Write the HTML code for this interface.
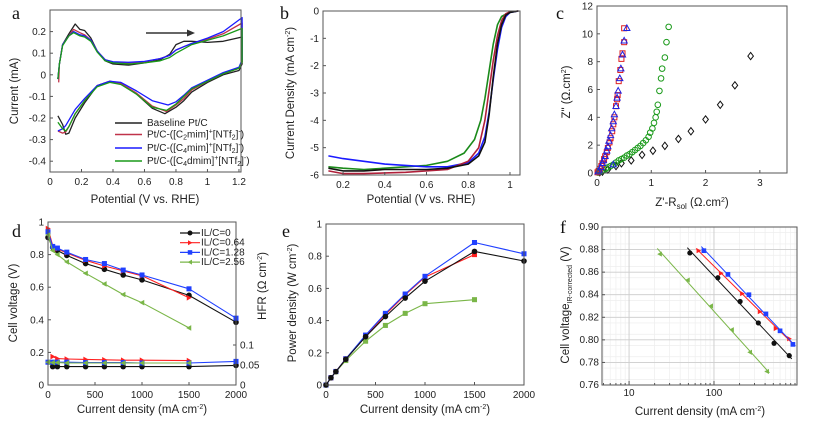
<!DOCTYPE html>
<html><head><meta charset="utf-8"><style>
html,body{margin:0;padding:0;background:#fff;}
svg{display:block;font-family:"Liberation Sans",Arial,sans-serif;}
.t{font-size:10px;fill:#222;}
.ttl{font-size:11.5px;fill:#222;}
.let{font-family:"Liberation Serif",serif;font-size:18px;fill:#111;}
</style></head><body>
<svg id="fig" xmlns="http://www.w3.org/2000/svg" width="813" height="423" viewBox="0 0 813 423"></svg>
<script>
// ---------- Panel a data (CV) ----------
const cvBlackX=[0.05,0.06,0.08,0.12,0.16,0.19,0.22,0.26,0.3,0.35,0.4,0.5,0.6,0.7,0.76,0.8,0.85,0.9,1.0,1.1,1.22,1.22,1.2,1.1,1.0,0.9,0.85,0.8,0.73,0.65,0.55,0.45,0.38,0.3,0.22,0.16,0.12,0.1,0.08,0.05];
const cvBlackY=[-0.02,0.05,0.14,0.19,0.235,0.21,0.205,0.17,0.11,0.065,0.05,0.045,0.055,0.07,0.095,0.14,0.155,0.155,0.15,0.155,0.175,0.05,0.02,0.0,-0.035,-0.08,-0.12,-0.15,-0.18,-0.155,-0.09,-0.04,-0.03,-0.05,-0.13,-0.2,-0.27,-0.275,-0.23,-0.19];
const cvRedX=[0.055,0.06,0.08,0.12,0.15,0.19,0.22,0.26,0.3,0.35,0.4,0.5,0.6,0.7,0.76,0.8,0.85,0.9,1.0,1.1,1.22,1.22,1.2,1.1,1.0,0.9,0.85,0.8,0.74,0.65,0.55,0.45,0.38,0.3,0.22,0.16,0.12,0.1,0.08,0.05];
const cvRedY=[-0.035,0.05,0.14,0.18,0.21,0.195,0.185,0.16,0.11,0.07,0.058,0.055,0.06,0.075,0.09,0.115,0.13,0.145,0.165,0.19,0.24,0.06,0.03,0.005,-0.03,-0.07,-0.11,-0.14,-0.17,-0.145,-0.085,-0.04,-0.03,-0.05,-0.12,-0.18,-0.24,-0.265,-0.27,-0.26];
const cvBlueX=[0.05,0.06,0.08,0.12,0.15,0.19,0.22,0.26,0.3,0.35,0.4,0.5,0.6,0.7,0.76,0.8,0.85,0.9,1.0,1.1,1.22,1.22,1.2,1.1,1.0,0.9,0.85,0.8,0.75,0.65,0.55,0.45,0.38,0.3,0.22,0.16,0.12,0.1,0.08,0.05];
const cvBlueY=[-0.02,0.05,0.14,0.18,0.2,0.185,0.18,0.16,0.11,0.07,0.06,0.058,0.062,0.075,0.09,0.115,0.13,0.145,0.17,0.2,0.265,0.07,0.035,0.01,-0.025,-0.06,-0.095,-0.125,-0.14,-0.12,-0.075,-0.035,-0.03,-0.05,-0.11,-0.16,-0.21,-0.235,-0.25,-0.26];
const cvGreenX=[0.05,0.06,0.08,0.12,0.15,0.19,0.22,0.26,0.3,0.35,0.4,0.5,0.6,0.7,0.76,0.8,0.85,0.9,1.0,1.1,1.22,1.22,1.2,1.1,1.0,0.9,0.85,0.8,0.74,0.65,0.55,0.45,0.38,0.3,0.22,0.16,0.12,0.1,0.08,0.05];
const cvGreenY=[-0.02,0.05,0.135,0.18,0.195,0.18,0.175,0.155,0.105,0.065,0.055,0.05,0.055,0.065,0.08,0.1,0.12,0.14,0.16,0.18,0.215,0.06,0.03,0.005,-0.03,-0.065,-0.1,-0.135,-0.165,-0.15,-0.09,-0.045,-0.035,-0.055,-0.12,-0.18,-0.24,-0.26,-0.25,-0.22];
// ---------- Panel b data (LSV) ----------
const lsvBlackX=[0.13,0.2,0.3,0.4,0.5,0.6,0.7,0.8,0.85,0.88,0.9,0.92,0.94,0.96,0.98,1.0,1.04];
const lsvBlackY=[-5.75,-5.85,-5.85,-5.8,-5.8,-5.8,-5.75,-5.6,-5.3,-4.8,-3.8,-2.4,-1.2,-0.5,-0.15,-0.05,0];
const lsvRedX=[0.13,0.2,0.3,0.5,0.7,0.8,0.85,0.88,0.9,0.92,0.94,0.96,0.98,1.0,1.04];
const lsvRedY=[-5.85,-5.95,-5.95,-5.9,-5.8,-5.5,-5.0,-4.0,-2.9,-1.8,-0.9,-0.35,-0.1,-0.03,0];
const lsvBlueX=[0.13,0.2,0.3,0.4,0.5,0.6,0.7,0.8,0.85,0.88,0.9,0.92,0.94,0.96,0.98,1.0,1.04];
const lsvBlueY=[-5.3,-5.4,-5.5,-5.6,-5.65,-5.7,-5.7,-5.55,-5.2,-4.6,-3.7,-2.5,-1.4,-0.6,-0.2,-0.05,0];
const lsvGreenX=[0.13,0.2,0.3,0.4,0.5,0.6,0.7,0.78,0.83,0.86,0.88,0.9,0.92,0.94,0.96,1.0,1.04];
const lsvGreenY=[-5.7,-5.75,-5.8,-5.75,-5.7,-5.65,-5.5,-5.2,-4.7,-4.0,-3.2,-2.2,-1.2,-0.5,-0.2,-0.03,0];
// ---------- Panel c data (Nyquist) ----------
const nyRedX=[0.01,0.03,0.05,0.08,0.1,0.13,0.15,0.18,0.2,0.23,0.25,0.28,0.3,0.32,0.35,0.37,0.38,0.4,0.43,0.45,0.47,0.5,0.5];
const nyRedY=[0.05,0.15,0.3,0.5,0.7,1.0,1.2,1.5,1.8,2.2,2.5,3.0,3.5,4.0,4.8,5.3,5.6,6.6,7.4,8.2,8.6,9.4,10.4];
const nyBlueX=[0.02,0.04,0.07,0.1,0.12,0.15,0.18,0.2,0.22,0.25,0.27,0.3,0.32,0.35,0.37,0.39,0.42,0.44,0.47,0.5,0.55,0.3];
const nyBlueY=[0.1,0.2,0.4,0.7,0.9,1.2,1.6,1.9,2.3,2.7,3.2,3.7,4.2,4.8,5.4,5.9,6.8,7.5,8.5,9.5,10.4,0.6];
const nyGreenX=[0.02,0.05,0.08,0.12,0.16,0.2,0.25,0.3,0.35,0.4,0.45,0.5,0.55,0.6,0.65,0.7,0.75,0.8,0.85,0.9,0.95,0.98,1.02,1.05,1.08,1.1,1.12,1.15,1.18,1.2,1.25,1.28,1.32];
const nyGreenY=[0.03,0.08,0.13,0.2,0.3,0.4,0.5,0.6,0.75,0.9,1.0,1.1,1.25,1.35,1.5,1.65,1.8,1.95,2.15,2.35,2.6,2.9,3.2,3.6,4.0,4.4,4.9,5.9,6.8,7.5,8.3,9.4,10.5];
const nyBlackX=[0.05,0.1,0.2,0.35,0.45,0.63,0.83,1.03,1.25,1.5,1.73,2.0,2.27,2.54,2.83];
const nyBlackY=[0.05,0.1,0.25,0.5,0.7,0.9,1.3,1.6,1.95,2.45,3.0,3.85,4.9,6.3,8.4];
// ---------- Panel d/e data ----------
const curDens=[0,50,100,200,400,600,800,1000,1500,2000];
const vBlack=[0.905,0.845,0.825,0.795,0.745,0.71,0.675,0.645,0.55,0.385];
const vRed=[0.96,0.855,0.835,0.81,0.765,0.73,0.70,0.67,0.535];
const vBlue=[0.94,0.85,0.84,0.815,0.77,0.745,0.705,0.675,0.59,0.41];
const vGreen=[0.92,0.825,0.80,0.755,0.685,0.62,0.555,0.505,0.35];
const hfrBlackX=[50,100,200,400,600,800,1000,1500,2000];
const hfrBlack=[0.046,0.046,0.046,0.046,0.046,0.046,0.046,0.046,0.049];
const hfrRedX=[50,100,200,400,600,800,1000,1500];
const hfrRed=[0.071,0.066,0.065,0.064,0.063,0.062,0.062,0.061];
const hfrBlueX=[0,50,100,200,400,600,800,1000,1500,2000];
const hfrBlue=[0.057,0.057,0.057,0.057,0.056,0.056,0.056,0.055,0.055,0.059];
const hfrGreenX=[0,50,100,200,400,600,800,1000,1500];
const hfrGreen=[0.057,0.056,0.056,0.055,0.055,0.055,0.055,0.055,0.055];
const pBlack=[0,0.045,0.083,0.16,0.30,0.425,0.54,0.645,0.83,0.77];
const pRed=[0,0.045,0.084,0.162,0.305,0.437,0.56,0.67,0.81];
const pBlue=[0,0.045,0.084,0.163,0.31,0.445,0.565,0.675,0.885,0.815];
const pGreen=[0,0.045,0.082,0.152,0.272,0.37,0.445,0.505,0.53];
// ---------- Panel f data (Tafel) ----------
const tBlackX=[52,111,203,333,510,770];
const tBlackY=[0.877,0.855,0.834,0.815,0.797,0.786];
const tRedX=[66,121,215,347,535,770];
const tRedY=[0.879,0.859,0.841,0.825,0.810,0.801];
const tBlueX=[76,146,258,409,600,850];
const tBlueY=[0.879,0.858,0.840,0.823,0.808,0.796];
const tGreenX=[23,49,92,162,265,420];
const tGreenY=[0.876,0.853,0.830,0.809,0.789,0.772];

const NS='http://www.w3.org/2000/svg';
const svg=document.getElementById('fig');
function mk(tag,attrs,name,parent){
  const el=document.createElementNS(NS,tag);
  for(const k in attrs) el.setAttribute(k,attrs[k]);
  
  
  (parent||svg).appendChild(el);
  return el;
}
function txt(x,y,s,cls,name,anchor,rot){
  const a={x:x,y:y,class:cls,'text-anchor':anchor||'middle'};
  if(rot) a.transform='rotate(-90 '+x+' '+y+')';
  const t=mk('text',a,name);
  t.innerHTML=s;
  return t;
}
function axes(o){
  const lin=(v,a,b,p,q)=>p+(v-a)/(b-a)*(q-p);
  const sx=o.log?(v=>lin(Math.log10(v),Math.log10(o.xmin),Math.log10(o.xmax),o.x0,o.x1)):(v=>lin(v,o.xmin,o.xmax,o.x0,o.x1));
  const sy=v=>lin(v,o.ymin,o.ymax,o.y1,o.y0);
  return {sx,sy};
}
function frame(o,name){
  mk('rect',{x:o.x0,y:o.y0,width:o.x1-o.x0,height:o.y1-o.y0,fill:'none',stroke:o.fc||'#555',"stroke-width":1},name);
}
function xticks(o,ax,ticks,labels,name){
  ticks.forEach((v,i)=>{
    const x=ax.sx(v);
    mk('line',{x1:x,x2:x,y1:o.y1,y2:o.y1-3,stroke:'#555'},name+'-tick');
    if(labels[i]!=='') txt(x,o.y1+13,labels[i],'t',name+'-label');
  });
}
function yticks(o,ax,ticks,labels,name){
  ticks.forEach((v,i)=>{
    const y=ax.sy(v);
    mk('line',{x1:o.x0,x2:o.x0+3,y1:y,y2:y,stroke:'#555'},name+'-tick');
    txt(o.x0-4,y+3.5,labels[i],'t',name+'-label','end');
  });
}
function line(xs,ys,ax,col,name,w){
  const pts=xs.map((x,i)=>ax.sx(x).toFixed(1)+','+ax.sy(ys[i]).toFixed(1)).join(' ');
  mk('polyline',{points:pts,fill:'none',stroke:col,'stroke-width':w||1.3,'stroke-linejoin':'round'},name);
}
function marker(type,x,y,col,name,s){
  s=s||2.8;
  if(type==='circle') mk('circle',{cx:x,cy:y,r:s,fill:col},name);
  else if(type==='ocircle') mk('circle',{cx:x,cy:y,r:s,fill:'none',stroke:col,'stroke-width':1},name);
  else if(type==='square') mk('rect',{x:x-s*0.9,y:y-s*0.9,width:s*1.8,height:s*1.8,fill:col},name);
  else if(type==='osquare') mk('rect',{x:x-s,y:y-s,width:s*2,height:s*2,fill:'none',stroke:col,'stroke-width':1},name);
  else if(type==='otri') mk('polygon',{points:`${x},${y-s*1.2} ${x-s*1.1},${y+s*0.8} ${x+s*1.1},${y+s*0.8}`,fill:'none',stroke:col,'stroke-width':1},name);
  else if(type==='odiamond') mk('polygon',{points:`${x},${y-s*1.3} ${x+s},${y} ${x},${y+s*1.3} ${x-s},${y}`,fill:'none',stroke:'#111','stroke-width':1},name);
  else if(type==='rtri') mk('polygon',{points:`${x+s},${y} ${x-s*0.8},${y-s} ${x-s*0.8},${y+s}`,fill:col},name);
  else if(type==='ltri') mk('polygon',{points:`${x-s},${y} ${x+s*0.8},${y-s} ${x+s*0.8},${y+s}`,fill:col},name);
}
function scatter(xs,ys,ax,type,col,name,s){ xs.forEach((x,i)=>marker(type,ax.sx(x),ax.sy(ys[i]),col,name,s)); }

// ===== Panel a =====
const oa={x0:50,x1:241,y0:10,y1:172,xmin:0,xmax:1.213,ymin:-0.45,ymax:0.30};
const aa=axes(oa);
line(cvBlackX,cvBlackY,aa,'#222','cv-baseline');
line(cvRedX,cvRedY,aa,'#c0334a','cv-c2mim');
line(cvBlueX,cvBlueY,aa,'#1a1aff','cv-c4mim');
line(cvGreenX,cvGreenY,aa,'#1a9a1a','cv-c4dmim');
frame(oa,'plot-a-frame');
xticks(oa,aa,[0,0.2,0.4,0.6,0.8,1,1.2],['0','0.2','0.4','0.6','0.8','1','1.2'],'a-x');
yticks(oa,aa,[0.2,0.1,0,-0.1,-0.2,-0.3,-0.4],['0.2','0.1','0','-0.1','-0.2','-0.3','-0.4'],'a-y');
mk('line',{x1:146,y1:33,x2:190,y2:33,stroke:'#333','stroke-width':1.5},'scan-arrow');
mk('polygon',{points:'195,33 187,29.5 187,36.5',fill:'#333'},'scan-arrowhead');
[['#222','Baseline Pt/C'],['#c0334a','Pt/C-([C<tspan font-size="7" dy="2">2</tspan><tspan dy="-2">mim]</tspan><tspan font-size="7" dy="-4">+</tspan><tspan dy="4">[NTf</tspan><tspan font-size="7" dy="2">2</tspan><tspan dy="-2">]</tspan><tspan font-size="7" dy="-4">-</tspan><tspan dy="4">)</tspan>'],
 ['#1a1aff','Pt/C-([C<tspan font-size="7" dy="2">4</tspan><tspan dy="-2">mim]</tspan><tspan font-size="7" dy="-4">+</tspan><tspan dy="4">[NTf</tspan><tspan font-size="7" dy="2">2</tspan><tspan dy="-2">]</tspan><tspan font-size="7" dy="-4">-</tspan><tspan dy="4">)</tspan>'],
 ['#1a9a1a','Pt/C-([C<tspan font-size="7" dy="2">4</tspan><tspan dy="-2">dmim]</tspan><tspan font-size="7" dy="-4">+</tspan><tspan dy="4">[NTf</tspan><tspan font-size="7" dy="2">2</tspan><tspan dy="-2">]</tspan><tspan font-size="7" dy="-4">-</tspan><tspan dy="4">)</tspan>']].forEach((e,i)=>{
  const y=[123,134.5,148,161][i];
  mk('line',{x1:115,x2:142,y1:y,y2:y,stroke:e[0],'stroke-width':1.5},'legend-a-swatch');
  const t=txt(147,y+3,e[1],'t','legend-a-entry','start'); t.setAttribute('font-size','8.5');
});
txt(145,203,'Potential (V vs. RHE)','ttl','a-x-axis-title');
txt(18,91,'Current (mA)','ttl','a-y-axis-title','middle',true);
txt(12,19,'a','let','panel-a-letter','start');

// ===== Panel b =====
const ob={x0:323,x1:520,y0:11,y1:175,xmin:0.104,xmax:1.048,ymin:-6,ymax:0};
const ab=axes(ob);
line(lsvGreenX,lsvGreenY,ab,'#1a8a1a','lsv-c4dmim',1.6);
line(lsvBlueX,lsvBlueY,ab,'#1a1aff','lsv-c4mim',1.6);
line(lsvRedX,lsvRedY,ab,'#b0203a','lsv-c2mim',1.6);
line(lsvBlackX,lsvBlackY,ab,'#111','lsv-baseline',1.6);
frame(ob,'plot-b-frame');
xticks(ob,ab,[0.2,0.4,0.6,0.8,1],['0.2','0.4','0.6','0.8','1'],'b-x');
yticks(ob,ab,[0,-1,-2,-3,-4,-5,-6],['0','-1','-2','-3','-4','-5','-6'],'b-y');
txt(421,203,'Potential (V vs. RHE)','ttl','b-x-axis-title');
txt(294,93,'Current Density (mA cm<tspan font-size="7" dy="-4">-2</tspan><tspan dy="4">)</tspan>','ttl','b-y-axis-title','middle',true);
txt(280,19,'b','let','panel-b-letter','start');

// ===== Panel c =====
const oc={x0:597,x1:787,y0:6,y1:173,xmin:0,xmax:3.5,ymin:0,ymax:12};
const ac=axes(oc);
scatter(nyBlackX,nyBlackY,ac,'odiamond','#111','nyquist-baseline',2.8);
scatter(nyGreenX,nyGreenY,ac,'ocircle','#1a9a1a','nyquist-c4dmim',2.8);
scatter(nyRedX,nyRedY,ac,'osquare','#e02020','nyquist-c2mim',2.5);
scatter(nyBlueX,nyBlueY,ac,'otri','#2020e0','nyquist-c4mim',2.8);
frame(oc,'plot-c-frame');
xticks(oc,ac,[0,1,2,3],['0','1','2','3'],'c-x');
yticks(oc,ac,[0,2,4,6,8,10,12],['0','2','4','6','8','10','12'],'c-y');
txt(692,206,'Z\'-R<tspan font-size="8" dy="3">sol</tspan><tspan dy="-3">  (Ω.cm</tspan><tspan font-size="7" dy="-4">2</tspan><tspan dy="4">)</tspan>','ttl','c-x-axis-title');
txt(570,92,'Z" (Ω.cm<tspan font-size="7" dy="-4">2</tspan><tspan dy="4">)</tspan>','ttl','c-y-axis-title','middle',true);
txt(556,19,'c','let','panel-c-letter','start');

// ===== Panel d =====
const od={x0:48,x1:236,y0:222,y1:385,xmin:0,xmax:2000,ymin:0,ymax:1};
const ad=axes(od);
const adR={sx:ad.sx,sy:v=>385-v/0.05*20};
const ser=[[vBlack,'#111','circle','black'],[vRed,'#ff2020','rtri','red'],[vBlue,'#2040ff','square','blue'],[vGreen,'#7ab648','ltri','green']];
const hfr=[[hfrBlackX,hfrBlack],[hfrRedX,hfrRed],[hfrBlueX,hfrBlue],[hfrGreenX,hfrGreen]];
ser.forEach((s,i)=>{
  const xs=curDens.slice(0,s[0].length);
  line(xs,s[0],ad,s[1],'voltage-line-'+s[3],1.1);
  scatter(xs,s[0],ad,s[2],s[1],'voltage-point-'+s[3],2.8);
  line(hfr[i][0],hfr[i][1],adR,s[1],'hfr-line-'+s[3],1.1);
  scatter(hfr[i][0],hfr[i][1],adR,s[2],s[1],'hfr-point-'+s[3],2.8);
});
frame(od,'plot-d-frame');
xticks(od,ad,[0,500,1000,1500,2000],['0','500','1000','1500','2000'],'d-x');
yticks(od,ad,[0,0.2,0.4,0.6,0.8,1],['0','0.2','0.4','0.6','0.8','1'],'d-y');
[0,0.05,0.1].forEach((v,i)=>{const y=adR.sy(v);mk('line',{x1:236,x2:233,y1:y,y2:y,stroke:'#555'},'d-y2-tick');txt(240,y+3.5,['0','0.05','0.1'][i],'t','d-y2-label','start');});
[['IL/C=0','#111','circle'],['IL/C=0.64','#ff2020','rtri'],['IL/C=1.28','#2040ff','square'],['IL/C=2.56','#7ab648','ltri']].forEach((e,i)=>{
  const y=233+i*9.7;
  mk('line',{x1:180,x2:200,y1:y,y2:y,stroke:e[1],'stroke-width':1.2},'legend-d-swatch');
  marker(e[2],190,y,e[1],'legend-d-marker',2.5);
  const t=txt(201,y+3,e[0],'t','legend-d-entry','start'); t.setAttribute('font-size','8.5');
});
txt(142,413,'Current density (mA cm<tspan font-size="7" dy="-4">-2</tspan><tspan dy="4">)</tspan>','ttl','d-x-axis-title');
txt(17,303,'Cell voltage (V)','ttl','d-y-axis-title','middle',true);
txt(266,286,'HFR (Ω cm<tspan font-size="7" dy="-4">-2</tspan><tspan dy="4">)</tspan>','ttl','d-y2-axis-title','middle',true);
txt(12,237,'d','let','panel-d-letter','start');

// ===== Panel e =====
const oe={x0:326,x1:524,y0:224,y1:385,xmin:0,xmax:2000,ymin:0,ymax:1};
const ae=axes(oe);
[[pGreen,'#7ab648','square','green'],[pRed,'#ff2020','square','red'],[pBlue,'#2040ff','square','blue'],[pBlack,'#111','circle','black']].forEach(s=>{
  const xs=curDens.slice(0,s[0].length);
  line(xs,s[0],ae,s[1],'power-line-'+s[3],1.1);
  scatter(xs,s[0],ae,s[2],s[1],'power-point-'+s[3],2.8);
});
frame(oe,'plot-e-frame');
xticks(oe,ae,[0,500,1000,1500,2000],['0','500','1000','1500','2000'],'e-x');
yticks(oe,ae,[0,0.2,0.4,0.6,0.8,1],['0','0.2','0.4','0.6','0.8','1'],'e-y');
txt(425,413,'Current density (mA cm<tspan font-size="7" dy="-4">-2</tspan><tspan dy="4">)</tspan>','ttl','e-x-axis-title');
txt(296,303,'Power density (W cm<tspan font-size="7" dy="-4">-2</tspan><tspan dy="4">)</tspan>','ttl','e-y-axis-title','middle',true);
txt(282,237,'e','let','panel-e-letter','start');

// ===== Panel f =====
const of={x0:602,x1:797,y0:227,y1:385,xmin:4.8,xmax:950,ymin:0.76,ymax:0.90,log:true};
const af=axes(of);
[5,6,7,8,9,20,30,40,50,60,70,80,90,200,300,400,500,600,700,800,900].forEach(v=>{const x=af.sx(v);mk('line',{x1:x,x2:x,y1:of.y0,y2:of.y1,stroke:'#eee','stroke-width':0.7},'f-minor-grid');mk('line',{x1:x,x2:x,y1:of.y1,y2:of.y1-2,stroke:'#555'},'f-minor-tick');});
[0.765,0.775,0.785,0.795,0.805,0.815,0.825,0.835,0.845,0.855,0.865,0.875,0.885,0.895].forEach(v=>{const y=af.sy(v);mk('line',{x1:of.x0,x2:of.x1,y1:y,y2:y,stroke:'#eee','stroke-width':0.7},'f-minor-grid');});
[10,100].forEach(v=>{const x=af.sx(v);mk('line',{x1:x,x2:x,y1:of.y0,y2:of.y1,stroke:'#ccc','stroke-width':0.9},'f-major-grid');});
[0.78,0.80,0.82,0.84,0.86,0.88].forEach(v=>{const y=af.sy(v);mk('line',{x1:of.x0,x2:of.x1,y1:y,y2:y,stroke:'#ccc','stroke-width':0.9},'f-major-grid');});
function fitLine(xs,ys,col,name){
  const lx=xs.map(Math.log10),n=xs.length;
  const mx=lx.reduce((a,b)=>a+b)/n,my=ys.reduce((a,b)=>a+b)/n;
  let num=0,den=0;lx.forEach((v,i)=>{num+=(v-mx)*(ys[i]-my);den+=(v-mx)*(v-mx);});
  const b=num/den,a=my-b*mx;
  const l0=lx[0]-0.03,l1=lx[n-1]+0.03;
  mk('line',{x1:af.sx(Math.pow(10,l0)),y1:af.sy(a+b*l0),x2:af.sx(Math.pow(10,l1)),y2:af.sy(a+b*l1),stroke:col,'stroke-width':1},name);
}
[[tGreenX,tGreenY,'#7ab648','ltri','green'],[tBlackX,tBlackY,'#111','circle','black'],[tRedX,tRedY,'#ff2020','rtri','red'],[tBlueX,tBlueY,'#2040ff','square','blue']].forEach(s=>{
  fitLine(s[0],s[1],s[2],'tafel-fit-'+s[4]);
  scatter(s[0],s[1],af,s[3],s[2],'tafel-point-'+s[4],2.6);
});
frame(of,'plot-f-frame');
[10,100].forEach(v=>{const x=af.sx(v);mk('line',{x1:x,x2:x,y1:of.y1,y2:of.y1-4,stroke:'#555'},'f-x-tick');const t=txt(x,of.y1+11,String(v),'t','f-x-label');t.setAttribute('font-size','8');});
[0.76,0.78,0.80,0.82,0.84,0.86,0.88,0.90].forEach(v=>{const y=af.sy(v);mk('line',{x1:of.x0,x2:of.x0+3,y1:y,y2:y,stroke:'#555'},'f-y-tick');const t=txt(of.x0-3,y+3,v.toFixed(2),'t','f-y-label','end');t.setAttribute('font-size','8');});
txt(700,415,'Current density (mA cm<tspan font-size="7" dy="-4">-2</tspan><tspan dy="4">)</tspan>','ttl','f-x-axis-title');
txt(569,305,'Cell voltage<tspan font-size="7" dy="3">IR-corrected</tspan><tspan dy="-3"> (V)</tspan>','ttl','f-y-axis-title','middle',true);
txt(560,233,'f','let','panel-f-letter','start');
</script>
</body></html>
